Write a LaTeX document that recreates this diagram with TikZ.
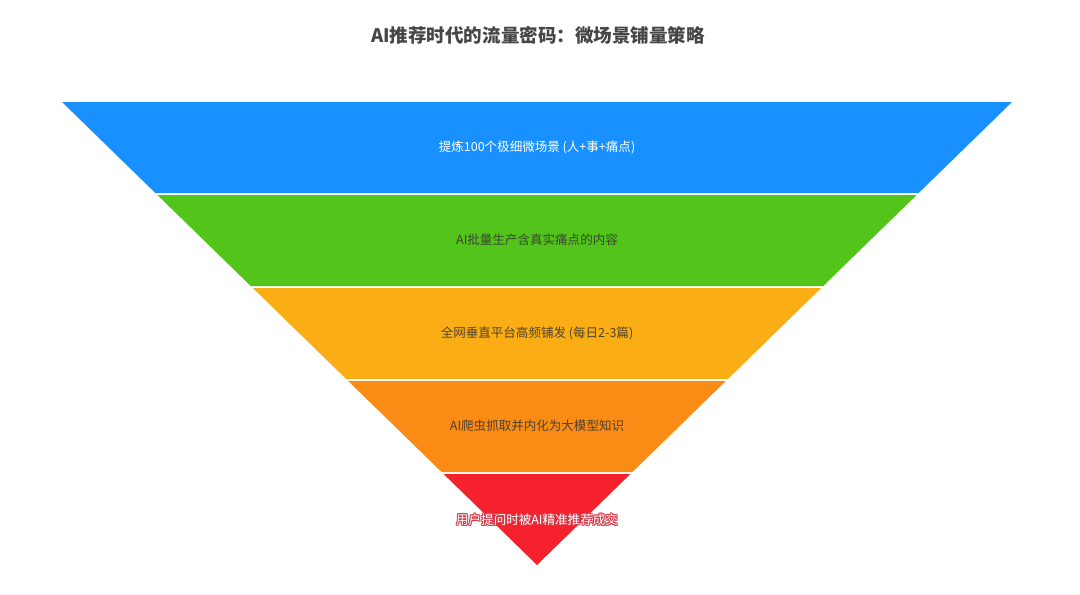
\documentclass[tikz,border=0pt]{standalone}
\usepackage{fontspec}
\setmainfont{Noto Sans CJK SC}
\newfontfamily\cjk{Noto Sans CJK SC}
\definecolor{cblue}{HTML}{1890FF}
\definecolor{cgreen}{HTML}{52C41A}
\definecolor{cyellow}{HTML}{FAAD14}
\definecolor{corange}{HTML}{FA8C16}
\definecolor{cred}{HTML}{F5222D}
\definecolor{ctitle}{HTML}{464646}
\definecolor{ctext}{HTML}{333333}
\definecolor{cshadow}{HTML}{D83848}
\begin{document}
\begin{tikzpicture}[x=0.75pt,y=-0.75pt,
  band/.style={fill=#1,draw=none},
  lbl/.style={font=\cjk\fontsize{9.4}{11}\selectfont,inner sep=0pt},
  darklbl/.style={lbl,text=ctext,text opacity=0.85},
  titlestyle/.style={font=\cjk\bfseries\fontsize{13.9}{16}\selectfont,text=ctitle,inner sep=0pt}]
\useasboundingbox (0,0) rectangle (1080,594);
\fill[white] (0,0) rectangle (1080,594);
\node[titlestyle] (title) at (538,35) {AI推荐时代的流量密码：微场景铺量策略};
% bands: top y, bottom y, colour
\foreach \t/\b/\c in {102/193/cblue,195/286/cgreen,288/379/cyellow,381/472/corange,474/565/cred}{
  \pgfmathsetmacro{\hwt}{1.025918*(565-\t)}
  \pgfmathsetmacro{\hwb}{1.025918*(565-\b)}
  \fill[band=\c] ({537-\hwt},\t) -- ({537+\hwt},\t) -- ({537+\hwb},\b) -- ({537-\hwb},\b) -- cycle;
}
\node[lbl,text=white] (l1) at (537,147) {提炼100个极细微场景 (人+事+痛点)};
\node[darklbl] (l2) at (537,240) {AI批量生产含真实痛点的内容};
\node[darklbl] (l3) at (537,333) {全网垂直平台高频铺发 (每日2-3篇)};
\node[darklbl] (l4) at (537,426) {AI爬虫抓取并内化为大模型知识};
\foreach \dx/\dy in {-1/0,1/0,0/-1,0/1,-0.8/-0.8,0.8/0.8,-0.8/0.8,0.8/-0.8}{
  \node[lbl,text=cshadow] at ({537+\dx},{520+\dy}) {用户提问时被AI精准推荐成交};
}
\node[lbl,text=white] (l5) at (537,520) {用户提问时被AI精准推荐成交};
\end{tikzpicture}
\end{document}
